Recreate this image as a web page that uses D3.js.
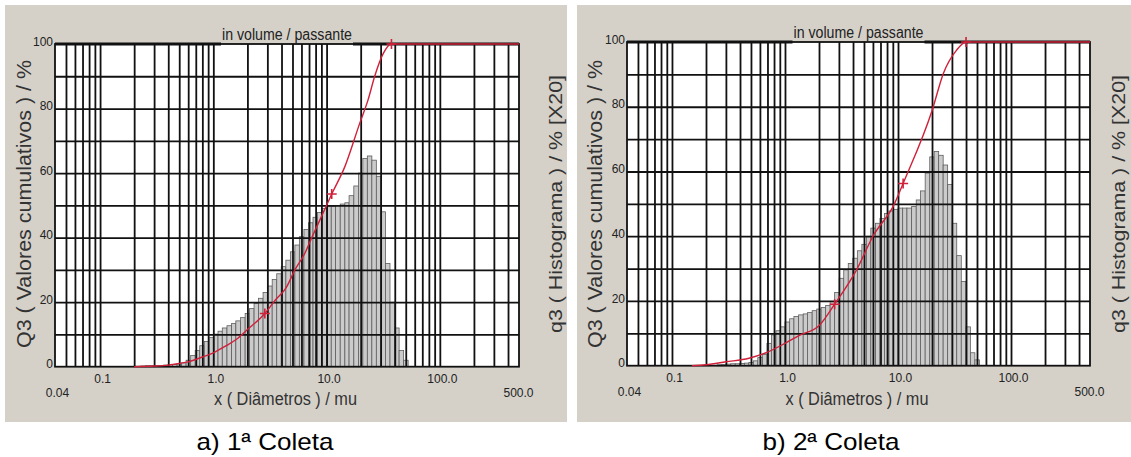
<!DOCTYPE html>
<html>
<head>
<meta charset="utf-8">
<script src="https://cdn.jsdelivr.net/npm/d3@7"></script>
<style>
  body { margin: 0; background: #fff; }
  svg { display: block; }
</style>
</head>
<body>
<svg id="chart" width="1131" height="457"></svg>
<script>
// particle size classes (mu), 25 per decade
const classEdges = [0.100, 0.110, 0.120, 0.132, 0.145, 0.158, 0.174, 0.191, 0.209, 0.229,
  0.251, 0.275, 0.302, 0.331, 0.363, 0.398, 0.437, 0.479, 0.525, 0.575,
  0.631, 0.692, 0.759, 0.832, 0.912, 1.00, 1.10, 1.20, 1.32, 1.45,
  1.58, 1.74, 1.91, 2.09, 2.29, 2.51, 2.75, 3.02, 3.31, 3.63,
  3.98, 4.37, 4.79, 5.25, 5.75, 6.31, 6.92, 7.59, 8.32, 9.12,
  10.0, 11.0, 12.0, 13.2, 14.5, 15.8, 17.4, 19.1, 20.9, 22.9,
  25.1, 27.5, 30.2, 33.1, 36.3, 39.8, 43.7, 47.9, 52.5];

// q3 histogram (x20), one value per class
const histA = [0, 0, 0, 0, 0, 0, 0, 0, 0,
  0.2, 0.3, 0.3, 0.4, 0.4, 0.5, 0.6, 0.7, 0.9, 1.2,
  2.0, 3.5, 5.0, 6.5, 7.8, 9.0, 10.1, 11.0, 12.0, 12.7,
  13.4, 14.2, 15.2, 16.5, 18.0, 19.6, 21.2, 23.0, 25.0, 27.0,
  28.8, 31.0, 33.0, 35.6, 37.7, 40.3, 42.5, 44.6, 46.3, 47.8,
  49.0, 49.6, 49.7, 49.9, 50.4, 50.8, 53.0, 56.0, 60.0, 64.5,
  65.3, 64.0, 59.0, 48.0, 32.0, 20.0, 12.0, 5.0, 2.0];
const histB = [0, 0, 0, 0, 0, 0, 0, 0, 0, 0,
  0.3, 0.4, 0.5, 0.6, 0.6, 0.7, 0.8, 1.0, 1.5, 2.5,
  3.5, 6.9, 9.5, 10.8, 12.0, 13.5, 14.5, 15.2, 15.7, 16.0,
  16.4, 17.0, 17.5, 18.0, 18.6, 19.8, 22.6, 27.0, 29.6, 31.6,
  33.2, 35.5, 37.5, 40.0, 42.5, 44.0, 45.5, 47.0, 47.8, 48.3,
  48.7, 48.7, 48.7, 49.2, 51.2, 54.0, 59.5, 64.5, 66.2, 65.0,
  62.0, 56.0, 44.0, 34.0, 26.0, 12.0, 4.0, 1.8];

// Q3 cumulative (passante)
const cumDiamA = [0.2, 0.3, 0.4, 0.5, 0.6, 0.8, 1.0, 1.3, 1.6, 2.0, 2.85, 3.5, 4.4, 5.25, 6.4, 7.4, 9.0, 11.1, 14.5, 19.6, 23.2, 26.6, 31.6, 37.4, 500];
const cumValA = [0, 0.2, 0.5, 1.0, 1.5, 3.0, 4.3, 6.5, 8.5, 11.5, 16.5, 20.5, 24.5, 30, 35, 40, 46.5, 53.5, 62, 75.4, 82.6, 90, 97, 100, 100];
const cumDiamB = [0.15, 0.2, 0.3, 0.48, 0.68, 1.0, 1.33, 2.03, 2.75, 4.3, 6.0, 9.3, 11.1, 20.1, 25.2, 33.0, 40.0, 500];
const cumValB = [0, 0.3, 1.2, 2.3, 4.0, 6.9, 9.3, 12.6, 19.0, 29.6, 40.0, 50.0, 56.3, 79.0, 90.3, 97.5, 100, 100];

const markDiamA = [2.85, 11.1, 37.4];
const markValA = [16.5, 53.5, 100];
const markDiamB = [2.75, 11.1, 40];
const markValB = [19, 56.3, 100];

// axis stuff
const gridDiam = [0.05, 0.06, 0.07, 0.08, 0.09, 0.1,
  0.2, 0.3, 0.4, 0.5, 0.6, 0.7, 0.8, 0.9, 1,
  2, 3, 4, 5, 6, 7, 8, 9, 10,
  20, 30, 40, 50, 60, 70, 80, 90, 100,
  200, 300, 400];
const gridPct = [10, 20, 30, 40, 50, 60, 70, 80, 90];
const yTicks = [0, 20, 40, 60, 80, 100];
const xTickVals = [0.1, 1, 10, 100];
const xTickText = ["0.1", "1.0", "10.0", "100.0"];
const xEndVals = [0.04, 500];
const xEndText = ["0.04", "500.0"];

const topTitle = "in volume / passante";
const xTitle = "x ( Diâmetros ) / mu";
const yTitle = "Q3 ( Valores cumulativos ) / %";
const y2Title = "q3 ( Histograma ) / % [X20]";

const narrow = '"Liberation Sans Narrow", "Arial Narrow", "Liberation Sans", sans-serif';
const sans = '"Liberation Sans", Arial, sans-serif';
const svg = d3.select("#chart");

function drawPanel(p) {
  const g = svg.append("g");
  g.append("rect")
    .attr("x", p.bx).attr("y", 5)
    .attr("width", p.bw).attr("height", 417)
    .attr("fill", "#d5d1c9");

  const x = d3.scaleLog().domain([0.04, 500]).range([p.left, p.right]);
  const y = d3.scaleLinear().domain([0, 100]).range([p.bottom, p.top]);
  const w = p.right - p.left, h = p.bottom - p.top;

  g.append("rect")
    .attr("x", p.left).attr("y", p.top)
    .attr("width", w).attr("height", h)
    .attr("fill", "#fff");

  // histogram bars
  const bars = p.hist.map((v, i) => ({ lo: classEdges[i], hi: classEdges[i + 1], v: v }))
    .filter(d => d.v > 0);
  g.selectAll(".bar")
    .data(bars)
    .enter()
    .append("rect")
    .attr("class", "bar")
    .attr("x", d => x(d.lo))
    .attr("width", d => x(d.hi) - x(d.lo))
    .attr("y", d => y(d.v))
    .attr("height", d => y(0) - y(d.v))
    .attr("fill", "#cbcbcb")
    .attr("stroke", "#5e5e5e")
    .attr("stroke-width", 0.8);

  // grid
  const vGrid = g.append("g")
    .attr("transform", `translate(0,${p.bottom})`)
    .call(d3.axisTop(x).tickValues(gridDiam).tickSize(h).tickFormat(""));
  const hGrid = g.append("g")
    .attr("transform", `translate(${p.left},0)`)
    .call(d3.axisLeft(y).tickValues(gridPct).tickSize(-w).tickFormat(""));
  [vGrid, hGrid].forEach(a => {
    a.select(".domain").remove();
    a.selectAll("line").attr("stroke", "#111").attr("stroke-width", 1.8);
  });

  // frame
  g.append("rect")
    .attr("x", p.left).attr("y", p.top)
    .attr("width", w).attr("height", h)
    .attr("fill", "none")
    .attr("stroke", "#111")
    .attr("stroke-width", 1.8);

  // title on top of the frame
  const cx = (p.left + p.right) / 2;
  const tw = 130;
  g.append("text")
    .attr("x", cx).attr("y", p.top - 4)
    .attr("text-anchor", "middle")
    .attr("font-family", narrow)
    .attr("font-size", 16)
    .attr("textLength", tw)
    .attr("lengthAdjust", "spacingAndGlyphs")
    .attr("fill", "#222")
    .text(topTitle);
  g.append("line")
    .attr("x1", p.left).attr("x2", cx - tw / 2 - 1)
    .attr("y1", p.top).attr("y2", p.top)
    .attr("stroke", "#111").attr("stroke-width", 3.2);
  g.append("line")
    .attr("x1", cx + tw / 2 + 1).attr("x2", p.right)
    .attr("y1", p.top).attr("y2", p.top)
    .attr("stroke", "#111").attr("stroke-width", 3.2);

  // cumulative curve
  const pts = p.cumD.map((d, i) => [d, p.cumV[i]]);
  const line = d3.line()
    .x(d => x(d[0]))
    .y(d => y(d[1]))
    .curve(d3.curveMonotoneX);
  g.append("path")
    .datum(pts)
    .attr("d", line)
    .attr("fill", "none")
    .attr("stroke", "#d0203a")
    .attr("stroke-width", 1.4);

  g.selectAll(".mark")
    .data(p.markD.map((d, i) => [d, p.markV[i]]))
    .enter()
    .append("path")
    .attr("class", "mark")
    .attr("transform", d => `translate(${x(d[0])},${y(d[1])})`)
    .attr("d", "M-5,0H5M0,-5V5")
    .attr("stroke", "#d0203a")
    .attr("stroke-width", 1.6);

  // y tick labels
  const yAx = g.append("g")
    .attr("transform", `translate(${p.left},0)`)
    .call(d3.axisLeft(y).tickValues(yTicks).tickSize(0).tickPadding(2).tickFormat(d3.format("d")));
  yAx.select(".domain").remove();
  yAx.selectAll("text")
    .attr("dy", "0.1em")
    .attr("font-family", narrow)
    .attr("font-size", 12)
    .attr("fill", "#222");

  // x tick labels
  const xAx = g.append("g")
    .attr("transform", `translate(0,${p.bottom})`)
    .call(d3.axisBottom(x).tickValues(xTickVals).tickSize(0).tickFormat((d, i) => xTickText[i]));
  xAx.select(".domain").remove();
  xAx.selectAll("text")
    .attr("y", 16).attr("dy", 0).attr("dx", 2)
    .attr("font-family", sans)
    .attr("font-size", 12)
    .attr("fill", "#222");
  const xEnd = g.append("g")
    .attr("transform", `translate(0,${p.bottom})`)
    .call(d3.axisBottom(x).tickValues(xEndVals).tickSize(0).tickFormat((d, i) => xEndText[i]));
  xEnd.select(".domain").remove();
  xEnd.selectAll("text")
    .attr("y", 30).attr("dy", 0).attr("dx", (d, i) => i === 0 ? 2 : -1)
    .attr("font-family", sans)
    .attr("font-size", 12)
    .attr("fill", "#222");

  // axis titles
  g.append("text")
    .attr("x", cx - 1.5).attr("y", 405)
    .attr("text-anchor", "middle")
    .attr("font-family", narrow)
    .attr("font-size", 18)
    .attr("textLength", 143)
    .attr("lengthAdjust", "spacingAndGlyphs")
    .attr("fill", "#333")
    .text(xTitle);
  g.append("text")
    .attr("transform", `translate(${p.yTitleX},204) rotate(-90)`)
    .attr("text-anchor", "middle")
    .attr("dy", "0.35em")
    .attr("font-family", sans)
    .attr("font-size", 20)
    .attr("textLength", 288)
    .attr("lengthAdjust", "spacingAndGlyphs")
    .attr("fill", "#333")
    .text(yTitle);
  g.append("text")
    .attr("transform", `translate(${p.y2TitleX},204) rotate(-90)`)
    .attr("text-anchor", "middle")
    .attr("dy", "0.35em")
    .attr("font-family", sans)
    .attr("font-size", 18)
    .attr("textLength", 258)
    .attr("lengthAdjust", "spacingAndGlyphs")
    .attr("fill", "#333")
    .text(y2Title);

  // caption below the panel
  svg.append("text")
    .attr("x", p.capX).attr("y", 450)
    .attr("text-anchor", "middle")
    .attr("font-family", sans)
    .attr("font-size", 24)
    .attr("textLength", 137)
    .attr("lengthAdjust", "spacingAndGlyphs")
    .attr("fill", "#000")
    .text(p.caption);
}

drawPanel({
  bx: 5, bw: 562, left: 55, right: 519, top: 44, bottom: 366.7,
  hist: histA, cumD: cumDiamA, cumV: cumValA, markD: markDiamA, markV: markValA,
  yTitleX: 24, y2TitleX: 556, capX: 265, caption: "a) 1ª Coleta"
});
drawPanel({
  bx: 577, bw: 554, left: 627, right: 1090, top: 42, bottom: 365.7,
  hist: histB, cumD: cumDiamB, cumV: cumValB, markD: markDiamB, markV: markValB,
  yTitleX: 595, y2TitleX: 1119, capX: 831, caption: "b) 2ª Coleta"
});
</script>
</body>
</html>
